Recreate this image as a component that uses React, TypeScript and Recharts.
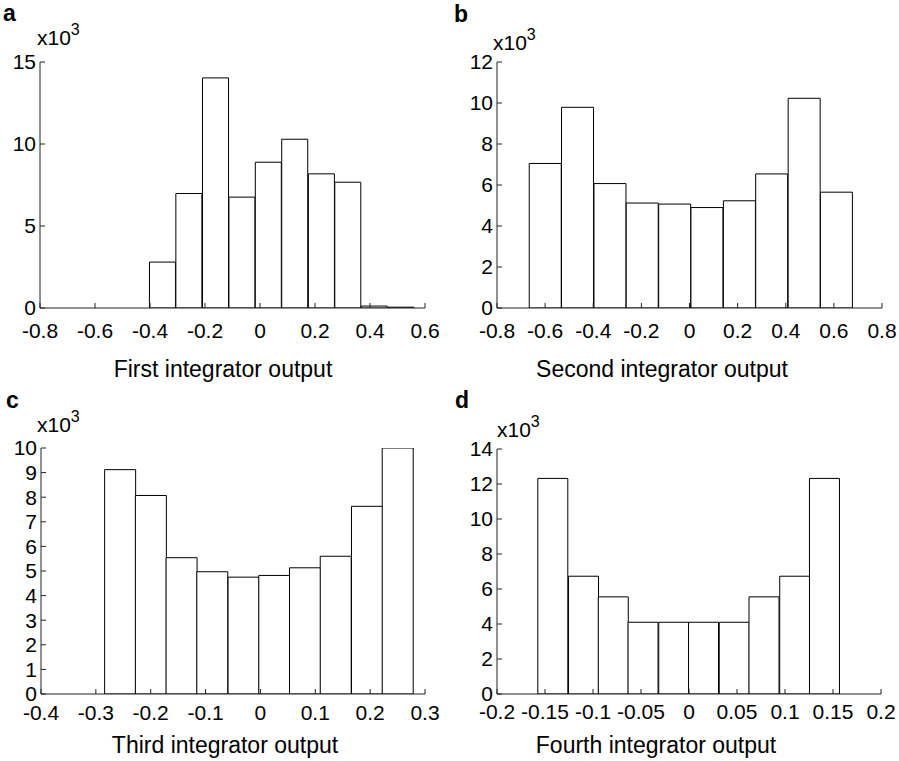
import React from 'react';
import { ComposedChart, Bar, XAxis, YAxis } from 'recharts';

const FONT = '"Liberation Sans", Arial, Helvetica, sans-serif';

// bin centres and counts (x10^3)
const centersA = [-0.354, -0.258, -0.161, -0.065, 0.031, 0.127, 0.224, 0.32, 0.416, 0.513];
const countsA = [2.8, 6.98, 14.03, 6.76, 8.89, 10.29, 8.18, 7.67, 0.12, 0.05];
const xTicksA = [-0.8, -0.6, -0.4, -0.2, 0, 0.2, 0.4, 0.6];
const yTicksA = [0, 5, 10, 15];

const centersB = [-0.599, -0.465, -0.33, -0.196, -0.061, 0.073, 0.208, 0.342, 0.477, 0.611];
const countsB = [7.05, 9.79, 6.07, 5.12, 5.07, 4.9, 5.23, 6.54, 10.23, 5.65];
const xTicksB = [-0.8, -0.6, -0.4, -0.2, 0, 0.2, 0.4, 0.6, 0.8];
const yTicksB = [0, 2, 4, 6, 8, 10, 12];

const centersC = [-0.256, -0.2, -0.144, -0.088, -0.031, 0.025, 0.081, 0.137, 0.194, 0.25];
const countsC = [9.12, 8.07, 5.54, 4.97, 4.75, 4.82, 5.13, 5.6, 7.63, 10];
const xTicksC = [-0.4, -0.3, -0.2, -0.1, 0, 0.1, 0.2, 0.3];
const yTicksC = [0, 1, 2, 3, 4, 5, 6, 7, 8, 9, 10];

const centersD = [-0.142, -0.11, -0.079, -0.048, -0.016, 0.015, 0.047, 0.078, 0.11, 0.141];
const countsD = [12.32, 6.73, 5.55, 4.1, 4.1, 4.1, 4.1, 5.55, 6.73, 12.32];
const xTicksD = [-0.2, -0.15, -0.1, -0.05, 0, 0.05, 0.1, 0.15, 0.2];
const yTicksD = [0, 2, 4, 6, 8, 10, 12, 14];

const AXIS = '#222';
const TICK_FONT = 21;

// recharts ignored fontSize on the tick object, so draw the labels ourselves
function TickLabel(props: any) {
  const { x, y, payload, textAnchor, verticalAnchor } = props;
  let dy = '0.355em';
  if (verticalAnchor === 'start') dy = '0.71em';
  if (verticalAnchor === 'end') dy = '0';
  return (
    <text
      x={x}
      y={y}
      dy={dy}
      textAnchor={textAnchor}
      fontSize={TICK_FONT}
      fontFamily={FONT}
      fill="#000"
    >
      {payload.value}
    </text>
  );
}

interface HistProps {
  left: number;
  top: number;
  width: number;
  height: number;
  centers: number[];
  counts: number[];
  xTicks: number[];
  yTicks: number[];
  yAxisWidth: number;
  rightGap: number;
  topGap: number;
  bottomHeight: number;
  xTickMargin: number;
}

function Histogram({
  left, top, width, height, centers, counts, xTicks, yTicks,
  yAxisWidth, rightGap, topGap, bottomHeight, xTickMargin
}: HistProps) {
  const data = centers.map((x, i) => ({ x, count: counts[i] }));
  const xDomain = [xTicks[0], xTicks[xTicks.length - 1]];
  const yDomain = [yTicks[0], yTicks[yTicks.length - 1]];

  return (
    <div style={{ position: 'absolute', left, top }}>
      <ComposedChart
        width={width}
        height={height}
        data={data}
        margin={{ top: topGap, right: rightGap, bottom: 0, left: 0 }}
        barCategoryGap={0}
        barGap={0}
      >
        <XAxis
          dataKey="x"
          type="number"
          domain={xDomain}
          ticks={xTicks}
          interval={0}
          allowDataOverflow
          height={bottomHeight}
          tickSize={-5}
          tickMargin={xTickMargin}
          stroke={AXIS}
          tick={<TickLabel />}
        />
        <XAxis
          xAxisId="top"
          dataKey="x"
          orientation="top"
          type="number"
          domain={xDomain}
          ticks={xTicks}
          interval={0}
          allowDataOverflow
          height={0}
          tickSize={-5}
          tick={false}
          stroke={AXIS}
        />
        <YAxis
          type="number"
          domain={yDomain}
          ticks={yTicks}
          interval={0}
          allowDataOverflow
          width={yAxisWidth}
          tickSize={-5}
          tickMargin={9}
          stroke={AXIS}
          tick={<TickLabel />}
        />
        <YAxis
          yAxisId="right"
          orientation="right"
          type="number"
          domain={yDomain}
          ticks={yTicks}
          interval={0}
          allowDataOverflow
          width={0}
          tickSize={-5}
          tick={false}
          stroke={AXIS}
        />
        <Bar dataKey="count" fill="#fff" stroke="#000" strokeWidth={1} isAnimationActive={false} />
      </ComposedChart>
    </div>
  );
}

function Multiplier({ x, y }: { x: number; y: number }) {
  return (
    <text x={x} y={y} fontSize={21} fontFamily={FONT} fill="#000">
      x10
      <tspan fontSize={16} dy={-10}>3</tspan>
    </text>
  );
}

export default function App() {
  const letter = { fontSize: 23, fontWeight: 700, fontFamily: FONT, fill: '#000' } as const;
  const title = { fontSize: 23, fontFamily: FONT, fill: '#000', textAnchor: 'middle' } as const;

  return (
    <div style={{ position: 'absolute', left: 0, top: 0, width: 899, height: 761, background: '#fff' }}>
      <Histogram
        left={0} top={0} width={450} height={380}
        centers={centersA} counts={countsA} xTicks={xTicksA} yTicks={yTicksA}
        yAxisWidth={40} rightGap={25} topGap={62} bottomHeight={72} xTickMargin={20}
      />
      <Histogram
        left={450} top={0} width={449} height={380}
        centers={centersB} counts={countsB} xTicks={xTicksB} yTicks={yTicksB}
        yAxisWidth={47} rightGap={17} topGap={62} bottomHeight={72} xTickMargin={20}
      />
      <Histogram
        left={0} top={380} width={450} height={381}
        centers={centersC} counts={countsC} xTicks={xTicksC} yTicks={yTicksC}
        yAxisWidth={41} rightGap={25} topGap={68} bottomHeight={67} xTickMargin={16}
      />
      <Histogram
        left={450} top={380} width={449} height={381}
        centers={centersD} counts={countsD} xTicks={xTicksD} yTicks={yTicksD}
        yAxisWidth={47} rightGap={18} topGap={69} bottomHeight={67} xTickMargin={15}
      />
      <svg
        width={899}
        height={761}
        style={{ position: 'absolute', left: 0, top: 0, pointerEvents: 'none' }}
      >
        <text x={3} y={21} {...letter}>a</text>
        <text x={454} y={22} {...letter}>b</text>
        <text x={6} y={408} {...letter}>c</text>
        <text x={455} y={408} {...letter}>d</text>

        <Multiplier x={37} y={45} />
        <Multiplier x={493} y={50} />
        <Multiplier x={37} y={432} />
        <Multiplier x={497} y={437} />

        <text x={223} y={377} {...title}>First integrator output</text>
        <text x={662} y={377} {...title}>Second integrator output</text>
        <text x={225} y={753} {...title}>Third integrator output</text>
        <text x={656} y={753} {...title}>Fourth integrator output</text>
      </svg>
    </div>
  );
}
